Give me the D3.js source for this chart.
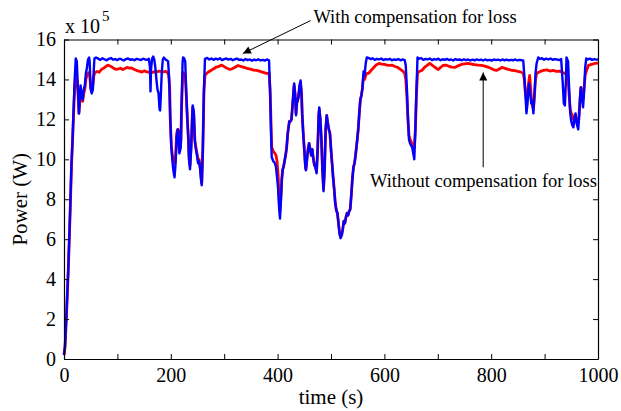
<!DOCTYPE html>
<html>
<head>
<meta charset="utf-8">
<script src="https://cdn.jsdelivr.net/npm/d3@7"></script>
<style>
  body { margin: 0; background: #fff; }
  svg text { font-family: "Liberation Serif", "Times New Roman", serif; fill: #000; }
</style>
</head>
<body>
<svg class="chart" width="621" height="411"></svg>
<script>
// tick values
var xTicks = [0, 100, 200, 300, 400, 500, 600, 700, 800, 900, 1000];
var xLabelled = [0, 200, 400, 600, 800, 1000];
var yTicks = [0, 2, 4, 6, 8, 10, 12, 14, 16];

// power (x 10^5 W) vs time (s), with compensation for loss (blue)
var withComp = [
  [0,0.2],[2,0.7],[5,2.5],[8,4.5],[11,7.0],[14,9.8],[16,11.0],[18,12.5],[20,14.0],[22,15.05],
  [24,14.9],[26,13.6],[28,12.3],[30,13.2],[31,13.7],[33,13.2],[35,13.0],[37,13.5],[39,13.7],[41,14.3],
  [43,14.6],[45,15.0],[47,15.1],[48,14.9],[50,13.5],[52,13.3],[54,13.5],[56,14.6],
  [57,15.05],[60,15.1],[64,15.04],[68,14.98],[72,15.06],[76,15.0],[80,14.96],[84,15.03],[88,15.07],
  [92,14.99],[96,15.02],[100,14.97],[104,15.04],[108,15.0],[112,14.95],[116,15.02],[120,15.05],
  [124,14.98],[128,15.01],[132,14.96],[136,15.03],[140,15.0],[144,14.97],[148,15.04],[152,15.0],
  [156,14.98],[159,15.03],[161,14.6],[162,13.4],[163,14.5],[165,15.05],[167,15.15],[169,15.0],
  [171,14.6],[173,14.0],[175,13.5],[177,13.3],[179,12.5],[180,12.45],[181,13.0],[183,14.3],[185,15.0],
  [187,15.1],[190,15.0],[193,14.95],[195,14.9],[197,14.0],[199,12.0],[201,10.6],[203,9.9],[205,9.4],
  [207,9.1],[209,9.8],[211,11.1],[213,11.5],[214,11.45],[216,10.3],[218,10.5],[219,10.9],[220,12.5],
  [222,14.8],[223,15.1],[225,15.05],[227,14.9],[229,13.3],[231,12.0],[233,11.0],[234,10.0],[236,9.5],
  [238,10.5],[240,12.0],[241,12.7],[243,12.4],[245,10.9],[247,10.5],[249,10.2],[251,9.8],[253,9.9],
  [255,9.5],[257,8.9],[258,8.7],[260,10.5],[262,13.5],
  [264,15.03],[268,15.08],[272,15.0],[276,15.05],[280,14.98],[284,15.04],[288,15.0],[292,15.06],
  [296,14.97],[300,15.02],[304,15.05],[308,14.99],[312,15.03],[316,14.96],[320,15.01],[324,15.04],
  [328,14.98],[332,15.0],[336,14.95],[340,15.02],[344,14.97],[348,15.0],[352,14.94],[356,14.99],
  [360,14.96],[364,15.01],[368,14.95],[372,14.98],[376,14.94],[380,15.0],[383,14.97],
  [384,14.95],[386,13.3],[388,11.0],[389,10.1],[392,9.9],[395,9.8],[397,9.6],[399,9.1],[401,8.5],
  [403,7.5],[404.5,7.03],[406,7.8],[408,9.0],[409.5,9.45],[411,9.6],[413,9.9],[415,10.2],[417,10.6],
  [419,11.3],[422,11.9],[424,11.9],[426,12.0],[428,12.7],[430,13.5],[431,13.8],[433,13.2],[434.5,12.2],
  [436,12.8],[439,13.1],[441,13.7],[443,13.95],[445,13.2],[446,12.3],[448,11.3],[450,10.5],[452,9.6],
  [453,9.45],[455,10.0],[457,10.5],[459,10.8],[461,10.5],[463,10.2],[465,10.5],[467,10.0],[469,9.7],
  [471,9.6],[473,9.3],[475,10.5],[477,12.2],[478,12.6],[480,12.0],[482,11.0],[484,9.5],[486,8.4],
  [488,9.5],[490,11.5],[492,12.2],[494,11.8],[496,11.5],[498,11.3],[500,10.5],[502,9.8],[504,9.1],
  [506,8.5],[508,7.8],[510,7.45],[512,7.3],[514,6.8],[516,6.3],[518,6.05],[520,6.2],[522,6.5],
  [524,6.9],[526,6.8],[528,7.1],[530,7.3],[532,7.2],[534,7.4],[536,7.5],[538,8.2],[540,9.0],[542,9.6],
  [544,9.8],[546,10.2],[549,10.95],[551,11.5],[553,12.3],[555,13.0],[557,13.2],[559,13.6],[561,14.4],
  [563,14.2],[565,14.8],
  [567,15.1],[570,15.08],[574,15.02],[578,15.06],[582,14.98],[586,15.03],[590,15.0],[594,15.05],
  [598,14.97],[602,15.02],[606,14.99],[610,15.03],[614,14.96],[618,15.0],[622,14.98],[626,15.02],
  [630,14.96],[634,15.0],[638,14.97],
  [640,14.7],[642,13.6],[644,12.2],[646,11.0],[648,10.8],[650,10.7],[652,10.6],[654,10.3],[656,10.0],
  [658,11.5],[660,13.5],
  [662,15.1],[665,15.04],[669,15.07],[673,14.98],[677,15.03],[681,15.0],[685,15.05],[689,14.97],
  [693,15.02],[697,14.99],[701,15.04],[705,14.96],[709,15.01],[713,14.98],[717,15.03],[721,14.97],
  [725,15.0],[729,14.95],[733,15.02],[737,14.98],[741,15.0],[745,14.96],[749,15.01],[753,14.97],
  [757,15.0],[761,14.95],[765,14.99],[769,14.96],[773,15.0],[777,14.97],[781,14.99],[785,14.95],
  [789,15.0],[793,14.96],[797,14.98],[801,14.94],[805,15.0],[809,14.97],[813,14.99],[817,14.95],
  [821,15.0],[825,14.96],[829,14.99],[833,14.95],[837,14.98],[841,14.96],[845,15.0],[849,14.95],
  [853,14.98],[857,14.96],[860,14.95],
  [862,14.2],[864,13.3],[866,12.3],[868,12.8],[870,13.6],[871,13.8],[873,13.3],[875,12.8],[877,12.9],
  [879,12.3],[881,13.2],[883,14.3],[885,14.8],
  [888,15.1],[891,15.03],[895,15.06],[899,14.99],[903,15.04],[907,15.0],[911,15.05],[915,14.98],
  [919,15.02],[923,15.0],[927,14.97],[931,15.02],
  [934,13.8],[936,12.8],[938,12.7],[940,14.0],[941,15.1],[944,14.9],[946,13.5],[948,12.3],[950,11.9],
  [952,11.7],[954,11.6],[956,12.1],[958,12.3],[960,11.8],[962,11.6],[963,11.5],[965,12.3],[967,13.4],
  [968,13.6],[970,13.0],[972,12.6],[974,13.4],[976,14.6],
  [978,15.05],[981,15.0],[985,15.04],[989,14.98],[993,15.02],[997,14.99],[1000,15.0]
];

// without compensation for loss (red)
var withoutComp = [
  [0,0.2],[2,0.6],[5,2.4],[8,4.4],[11,6.9],[14,9.6],[16,10.9],[18,12.3],[20,13.6],[22,14.3],
  [24,14.0],[26,13.4],[28,12.3],[30,13.0],[31,13.5],[33,13.1],[35,12.9],[37,13.3],[39,13.5],[41,14.0],
  [43,14.2],[45,14.3],[47,14.35],[48,14.2],[50,13.6],[52,13.4],[54,13.7],[56,14.2],
  [58,14.35],[62,14.4],[66,14.36],[70,14.5],[74,14.56],[78,14.64],[82,14.72],[86,14.67],[90,14.62],
  [94,14.54],[98,14.5],[102,14.53],[106,14.56],[110,14.49],[114,14.55],[118,14.6],[122,14.57],
  [126,14.58],[130,14.52],[134,14.47],[138,14.43],[142,14.4],[146,14.37],[150,14.43],[154,14.39],
  [158,14.36],[162,14.41],[166,14.35],[170,14.4],[174,14.37],[178,14.42],[182,14.39],[186,14.37],
  [190,14.41],[194,14.35],[196,14.2],[198,13.5],[199,12.0],[201,10.7],[203,10.2],[205,9.9],[207,9.8],
  [209,10.2],[211,11.3],[213,11.5],[214,11.45],[216,10.5],[218,10.6],[219,11.0],[220,12.5],[222,14.0],
  [223,14.35],[225,14.3],[227,14.2],[229,13.2],[231,12.0],[233,11.0],[234,10.2],[236,9.7],[238,10.6],
  [240,12.0],[241,12.6],[243,12.3],[245,11.0],[247,10.6],[249,10.3],[251,10.0],[253,10.0],[255,9.6],
  [257,9.0],[258,8.8],[260,10.5],[262,13.3],[264,14.2],
  [267,14.3],[272,14.4],[278,14.5],[284,14.6],[290,14.65],[295,14.72],[300,14.64],[305,14.56],
  [311,14.5],[316,14.55],[321,14.62],[326,14.7],[331,14.65],[337,14.6],[343,14.55],[349,14.52],
  [355,14.47],[361,14.45],[367,14.4],[373,14.35],[379,14.3],[384,14.3],
  [386,13.5],[388,11.5],[389,10.6],[392,10.4],[395,10.3],[397,10.2],[399,9.9],[401,9.2],[403,7.9],
  [404.5,7.4],[406,8.0],[408,9.1],[409.5,9.5],[411,9.6],[413,9.9],[415,10.2],[417,10.6],
  [419,11.3],[422,11.9],[424,11.9],[426,12.0],[428,12.7],[430,13.4],[431,13.7],[433,13.2],[434.5,12.3],
  [436,12.8],[439,13.1],[441,13.6],[443,13.85],[445,13.2],[446,12.3],[448,11.3],[450,10.5],[452,9.7],
  [453,9.5],[455,10.0],[457,10.5],[459,10.8],[461,10.5],[463,10.2],[465,10.5],[467,10.0],[469,9.7],
  [471,9.6],[473,9.4],[475,10.5],[477,12.2],[478,12.5],[480,12.0],[482,11.0],[484,9.5],[486,8.5],
  [488,9.5],[490,11.5],[492,12.2],[494,11.8],[496,11.5],[498,11.3],[500,10.5],[502,9.8],[504,9.1],
  [506,8.5],[508,7.8],[510,7.45],[512,7.3],[514,6.8],[516,6.3],[518,6.1],[520,6.2],[522,6.5],
  [524,6.9],[526,6.8],[528,7.1],[530,7.3],[532,7.2],[534,7.4],[536,7.5],[538,8.2],[540,9.0],[542,9.6],
  [544,9.8],[546,10.2],[549,10.95],[551,11.5],[553,12.3],[555,13.0],[557,13.2],[559,13.6],[561,14.2],
  [563,14.0],[565,14.2],[567,14.3],[570,14.3],[575,14.45],[580,14.6],[585,14.74],[590,14.8],
  [595,14.77],[600,14.75],[605,14.72],[610,14.7],[615,14.71],[620,14.65],[625,14.6],[630,14.5],
  [635,14.4],[638,14.3],
  [640,14.0],[642,13.2],[644,12.0],[646,11.2],[648,11.0],[650,10.9],[652,10.7],[654,10.6],[656,10.6],
  [658,11.5],[660,13.2],[662,14.3],
  [665,14.4],[670,14.45],[675,14.6],[680,14.7],[685,14.8],[690,14.7],[695,14.6],[701,14.5],[706,14.62],
  [710,14.7],[715,14.72],[720,14.67],[726,14.62],[732,14.6],[738,14.68],[744,14.75],[750,14.78],
  [757,14.8],[763,14.77],[769,14.74],[775,14.72],[782,14.7],[788,14.67],[794,14.62],[800,14.55],
  [805,14.48],[810,14.45],[815,14.52],[820,14.6],[826,14.55],[832,14.5],[838,14.46],[844,14.44],
  [850,14.4],[856,14.37],[860,14.3],
  [862,14.0],[864,13.3],[866,12.95],[868,13.2],[870,13.8],[872,14.2],[874,13.5],[876,12.8],[879,12.5],
  [881,13.2],[883,14.0],[885,14.3],
  [888,14.35],[892,14.4],[898,14.45],[904,14.48],[910,14.42],[916,14.45],[922,14.4],[928,14.42],
  [934,14.35],[938,14.3],[942,14.2],
  [944,14.0],[946,13.2],[948,12.5],[950,12.3],[952,12.2],[954,12.0],[956,12.05],[958,12.2],[960,11.9],
  [962,11.7],[964,12.0],[966,12.9],[968,13.6],[970,13.2],[972,13.0],[974,13.6],[976,14.2],
  [978,14.4],[982,14.7],[988,14.75],[994,14.8],[1000,14.82]
];

var svg = d3.select("svg.chart"),
    serif = "Liberation Serif, Times New Roman, serif",
    mLeft = 64, mRight = 598, mTop = 39.5, mBottom = 359;

var x = d3.scaleLinear().domain([0, 1000]).range([mLeft, mRight]),
    y = d3.scaleLinear().domain([0, 16]).range([mBottom, mTop]);

var line = d3.line()
  .x(function(d) { return x(d[0]); })
  .y(function(d) { return y(d[1]); });

// series (blue drawn over red)
svg.append("path").datum(withoutComp)
  .attr("d", line).attr("fill", "none")
  .attr("stroke", "#ff0000").attr("stroke-width", 2.8).attr("stroke-linejoin", "round");
svg.append("path").datum(withComp)
  .attr("d", line).attr("fill", "none")
  .attr("stroke", "#0000ff").attr("stroke-width", 2.4).attr("stroke-linejoin", "round");

// box with inward ticks on all sides
function styleAxis(g) {
  g.attr("font-family", serif);
  g.selectAll(".domain").attr("stroke", "#000").attr("stroke-width", 1.2);
  g.selectAll(".tick line").attr("stroke", "#000").attr("stroke-width", 1);
  g.selectAll("text").attr("font-size", 20);
}

var xAxis = d3.axisBottom(x).tickValues(xTicks).tickSizeInner(-5).tickSizeOuter(0).tickPadding(9)
  .tickFormat(function(d) { return xLabelled.indexOf(d) >= 0 ? d : ""; });
svg.append("g").attr("transform", "translate(0," + mBottom + ")").call(xAxis).call(styleAxis);

svg.append("g").attr("transform", "translate(0," + mTop + ")")
  .call(d3.axisTop(x).tickValues(xTicks).tickSizeInner(-5).tickSizeOuter(0).tickFormat(""))
  .call(styleAxis);

svg.append("g").attr("transform", "translate(" + mLeft + ",0)")
  .call(d3.axisLeft(y).tickValues(yTicks).tickSizeInner(-5).tickSizeOuter(0).tickPadding(8))
  .call(styleAxis);

svg.append("g").attr("transform", "translate(" + mRight + ",0)")
  .call(d3.axisRight(y).tickValues(yTicks).tickSizeInner(-5).tickSizeOuter(0).tickFormat(""))
  .call(styleAxis);

// axis labels
svg.append("text").attr("x", (mLeft + mRight) / 2).attr("y", 404).attr("font-family", serif)
  .attr("text-anchor", "middle").attr("font-size", 21).text("time (s)");
svg.append("text").attr("transform", "translate(27," + ((mTop + mBottom) / 2) + ") rotate(-90)")
  .attr("font-family", serif).attr("text-anchor", "middle").attr("font-size", 21).text("Power (W)");

// exponent
var expo = svg.append("text").attr("x", 65).attr("y", 33).attr("font-size", 20).attr("font-family", serif);
expo.append("tspan").text("x 10");
expo.append("tspan").attr("dy", -12).attr("dx", 2).attr("font-size", 15).text("5");

// annotations
svg.append("defs").append("marker")
  .attr("id", "head").attr("viewBox", "0 0 10 10").attr("refX", 10).attr("refY", 5)
  .attr("markerWidth", 11).attr("markerHeight", 8).attr("markerUnits", "userSpaceOnUse")
  .attr("orient", "auto")
  .append("path").attr("d", "M0,0L10,5L0,10Z").attr("fill", "#000");

svg.append("line")
  .attr("x1", x(462)).attr("y1", y(16.95)).attr("x2", x(335)).attr("y2", y(15.3))
  .attr("stroke", "#000").attr("stroke-width", 1).attr("marker-end", "url(#head)");
svg.append("text").attr("x", x(467)).attr("y", 23).attr("font-size", 18.5).attr("font-family", serif)
  .text("With compensation for loss");

svg.append("line")
  .attr("x1", x(785)).attr("y1", y(9.6)).attr("x2", x(785)).attr("y2", y(14.35))
  .attr("stroke", "#000").attr("stroke-width", 1).attr("marker-end", "url(#head)");
svg.append("text").attr("x", 370).attr("y", 187).attr("font-size", 18.5).attr("font-family", serif)
  .text("Without compensation for loss");
</script>
</body>
</html>
